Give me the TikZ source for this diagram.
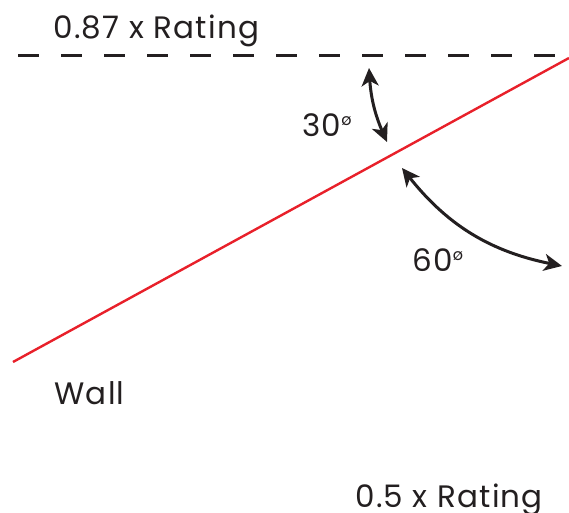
\documentclass[tikz,border=0pt]{standalone}
\usepackage{fontspec}
\setmainfont{Poppins}[LetterSpace=4]
\usetikzlibrary{arrows.meta}
\usetikzlibrary{positioning}

\definecolor{wallred}{HTML}{E8202A}
\definecolor{inkgray}{HTML}{231F20}

\tikzset{
  rating text/.style={anchor=base west, inner sep=0pt, text=inkgray, font=\fontsize{15.5}{18}\selectfont},
  angle arrow/.style={{Stealth[length=9pt,width=8.5pt,inset=2.5pt]}-{Stealth[length=9pt,width=8.5pt,inset=2.5pt]}, line width=1.5pt, draw=inkgray},
}
\newcommand{\degmark}{\raisebox{0.38em}{\fontsize{8}{8}\selectfont ø}}

\begin{document}
\begin{tikzpicture}[x=0.5pt,y=-0.5pt]
        \useasboundingbox (0,0) rectangle (569,513);
        % reference lines
        \coordinate (level start) at (18,56);
        \coordinate (level end) at (569,56);
        \coordinate (wall low) at (13,362);
        \coordinate (wall high) at (569,58);
        \draw [inkgray, line width=1.5pt, dash pattern=on 10.5pt off 11pt] (level start) -- (level end);
        \draw [wallred, line width=1.2pt] (wall low) -- (wall high);
        % labels
        \node [rating text] (rating top) at (53,39) {0.87 x Rating};
        \node [rating text] (angle thirty) at (302,137) {30\degmark};
        \node [rating text] (angle sixty) at (412,272) {60\degmark};
        \node [rating text] (wall) at (54,405) {Wall};
        \node [rating text] (rating bottom) at (355,508) {0.5 x Rating};
        % angle arrows
        \coordinate (thirty a) at (369,68);
        \coordinate (thirty b) at (387,142);
        \coordinate (sixty a) at (402,168);
        \coordinate (sixty b) at (562,266);
        \draw [angle arrow] (thirty a) to [bend right=10] (thirty b);
        \draw [angle arrow] (sixty a) to [bend right=20] (sixty b);
    \end{tikzpicture}
\end{document}
